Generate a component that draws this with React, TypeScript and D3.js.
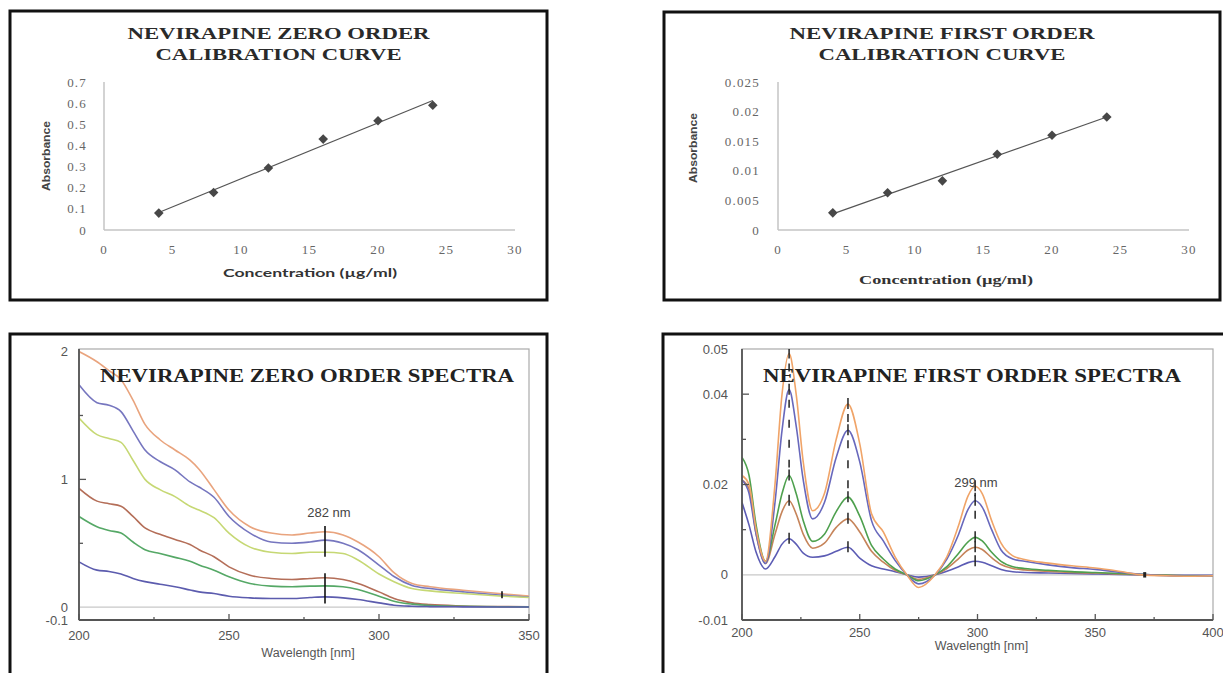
import React from "react";
import * as d3 from "d3";

// ---------- Calibration data ----------
const concentrations = [4, 8, 12, 16, 20, 24];
const zeroOrderAbs = [0.08, 0.177, 0.293, 0.43, 0.517, 0.59];
const firstOrderAbs = [0.0029, 0.0063, 0.0083, 0.0128, 0.016, 0.0191];
const concTicks = [0, 5, 10, 15, 20, 25, 30];
const zeroCalTicks = [0, 0.1, 0.2, 0.3, 0.4, 0.5, 0.6, 0.7];
const firstCalTicks = [0, 0.005, 0.01, 0.015, 0.02, 0.025];

// ---------- Zero order spectra ----------
const zeroWavelengths = [200, 206, 210, 214, 218, 222, 227, 232, 237, 240, 245, 250, 257, 264, 271, 277, 282, 288, 293, 300, 305, 311, 317, 328, 340, 350];
const zeroOrange = [2.0, 1.92, 1.85, 1.78, 1.62, 1.43, 1.31, 1.23, 1.15, 1.08, 0.92, 0.76, 0.63, 0.58, 0.565, 0.58, 0.59, 0.565, 0.51, 0.395, 0.27, 0.185, 0.16, 0.133, 0.107, 0.088];
const zeroBlue = [1.74, 1.6, 1.58, 1.53, 1.38, 1.23, 1.14, 1.075, 0.98, 0.94, 0.86, 0.71, 0.58, 0.51, 0.5, 0.51, 0.525, 0.5, 0.45, 0.33, 0.24, 0.17, 0.146, 0.12, 0.095, 0.08];
const zeroYellow = [1.48, 1.35, 1.32, 1.29, 1.15, 1.0, 0.92, 0.865, 0.79, 0.76, 0.7, 0.58, 0.47, 0.43, 0.42, 0.43, 0.43, 0.42, 0.37, 0.26, 0.2, 0.146, 0.128, 0.107, 0.088, 0.076];
const zeroBrown = [0.93, 0.83, 0.81, 0.79, 0.71, 0.62, 0.57, 0.53, 0.49, 0.45, 0.395, 0.316, 0.25, 0.225, 0.217, 0.225, 0.23, 0.217, 0.186, 0.12, 0.068, 0.034, 0.02, 0.01, 0.005, 0.003];
const zeroGreen = [0.71, 0.63, 0.6, 0.58, 0.51, 0.45, 0.42, 0.39, 0.36, 0.33, 0.29, 0.238, 0.186, 0.165, 0.16, 0.165, 0.167, 0.16, 0.139, 0.086, 0.047, 0.024, 0.013, 0.007, 0.004, 0.003];
const zeroNavy = [0.355, 0.29, 0.28, 0.26, 0.225, 0.2, 0.18, 0.16, 0.135, 0.12, 0.107, 0.086, 0.073, 0.068, 0.068, 0.076, 0.081, 0.073, 0.06, 0.034, 0.016, 0.008, 0.005, 0.003, 0.002, 0.002];
const zeroXTicks = [200, 250, 300, 350];
const zeroXMinor = [225, 275, 325];
const zeroYTicks = [0, 1, 2];
const zeroYMinor = [0.5, 1.5];

// ---------- First order spectra ----------
const firstWavelengths = [200, 203, 206, 210, 214, 217, 220, 223, 226, 230, 235, 240, 245, 250, 255, 260, 265, 270, 275, 282, 287, 292, 296, 299, 302, 306, 310, 315, 320, 330, 340, 350, 360, 370, 380, 390, 400];
const firstOrange = [0.022, 0.02, 0.01, 0.003, 0.02, 0.04, 0.049, 0.04, 0.025, 0.0142, 0.018, 0.03, 0.0378, 0.029, 0.0135, 0.0095, 0.004, 0.0, -0.0028, 0.0, 0.004, 0.011, 0.0175, 0.0196, 0.018, 0.012, 0.007, 0.0042, 0.0034, 0.0026, 0.002, 0.0015, 0.0008, 0.0, -0.0002, -0.0003, -0.0002];
const firstBlue = [0.021, 0.018, 0.009, 0.0025, 0.016, 0.032, 0.041, 0.033, 0.021, 0.0124, 0.016, 0.026, 0.032, 0.025, 0.012, 0.0075, 0.0032, 0.0, -0.002, 0.0, 0.0035, 0.009, 0.0145, 0.0164, 0.015, 0.01, 0.0055, 0.0035, 0.003, 0.0022, 0.0016, 0.0012, 0.0006, 0.0001, -0.0002, -0.0003, -0.0002];
const firstGreen = [0.026, 0.022, 0.011, 0.003, 0.011, 0.018, 0.022, 0.018, 0.012, 0.0074, 0.009, 0.014, 0.0172, 0.013, 0.0065, 0.0035, 0.0013, 0.0, -0.0013, 0.0, 0.0018, 0.0048, 0.0073, 0.0083, 0.0075, 0.005, 0.003, 0.0018, 0.0014, 0.001, 0.0007, 0.0005, 0.0003, 0.0001, -0.0001, -0.0002, -0.0002];
const firstBrown = [0.021, 0.019, 0.009, 0.0025, 0.009, 0.014, 0.0164, 0.0135, 0.009, 0.0059, 0.007, 0.0105, 0.0124, 0.0095, 0.0052, 0.0028, 0.001, 0.0, -0.001, 0.0, 0.0014, 0.0036, 0.0055, 0.0061, 0.0056, 0.0038, 0.0023, 0.0014, 0.0011, 0.0008, 0.0005, 0.0004, 0.0002, 0.0, -0.0001, -0.0002, -0.0002];
const firstNavy = [0.016, 0.011, 0.005, 0.0013, 0.004, 0.0068, 0.008, 0.0068, 0.0048, 0.0039, 0.0042, 0.0052, 0.0061, 0.0037, 0.002, 0.0013, 0.0007, 0.0, -0.0005, 0.0, 0.0008, 0.0018, 0.0027, 0.003, 0.0028, 0.002, 0.0012, 0.0007, 0.0005, 0.0004, 0.0003, 0.0002, 0.0001, 0.0, -0.0001, -0.0001, -0.0001];
const firstXTicks = [200, 250, 300, 350, 400];
const firstXMinor = [225, 275, 325, 375];
const firstYTicks = [-0.01, 0, 0.02, 0.04, 0.05];
const firstYMajor = [0.02, 0.04];
const firstYMinor = [0.01, 0.03];
const firstPeaks = [220, 245, 299];

const SERIF = "'Liberation Serif', 'Times New Roman', serif";
const SANS = "'Liberation Sans', Arial, sans-serif";

function regression(xs: number[], ys: number[]) {
  const mx = d3.mean(xs)!;
  const my = d3.mean(ys)!;
  const num = d3.sum(xs.map((x, i) => (x - mx) * (ys[i] - my)));
  const den = d3.sum(xs.map((x) => (x - mx) ** 2));
  const b = num / den;
  return { a: my - b * mx, b };
}

function CalPanel(props: {
  box: [number, number, number, number];
  xr: [number, number];
  yr: [number, number];
  yMax: number;
  yTicks: number[];
  ys: number[];
  title: [string, string];
  titleY: [number, number];
  titleLen: [number, number];
  yLabelX: number;
  absX: number;
  absY: number;
  xLabelX: number;
  xLabelY: number;
  xLabelFont: string;
  xLabelSize: number;
  fmt: (v: number) => string;
}) {
  const { box, xr, yr, yMax, yTicks, ys } = props;
  const x = d3.scaleLinear().domain([0, 30]).range(xr);
  const y = d3.scaleLinear().domain([0, yMax]).range(yr);
  const { a, b } = regression(concentrations, ys);
  const lineGen = d3.line<number>().x((c) => x(c)).y((c) => y(a + b * c));
  const cx = (box[0] + box[2]) / 2;
  const diamond = d3.symbol(d3.symbolSquare, 46)() || "";
  return (
    <g>
      <rect x={box[0]} y={box[1]} width={box[2] - box[0]} height={box[3] - box[1]} fill="#fff" stroke="#111" strokeWidth={3} />
      <text x={cx} y={props.titleY[0]} textAnchor="middle" fontFamily={SERIF} fontWeight="bold" fontSize={17.5} fill="#2a2a2a" textLength={props.titleLen[0]} lengthAdjust="spacingAndGlyphs">{props.title[0]}</text>
      <text x={cx} y={props.titleY[1]} textAnchor="middle" fontFamily={SERIF} fontWeight="bold" fontSize={17.5} fill="#2a2a2a" textLength={props.titleLen[1]} lengthAdjust="spacingAndGlyphs">{props.title[1]}</text>
      <line x1={xr[0]} x2={xr[0]} y1={yr[0]} y2={yr[1]} stroke="#c4c4c4" strokeWidth={1.5} />
      <line x1={xr[0]} x2={xr[1]} y1={yr[0]} y2={yr[0]} stroke="#c4c4c4" strokeWidth={1.5} />
      {yTicks.map((t) => (
        <text key={t} x={props.yLabelX} y={y(t) + 4.5} textAnchor="end" fontFamily={SERIF} fontSize={13} letterSpacing={1.2} fill="#666">{props.fmt(t)}</text>
      ))}
      {concTicks.map((t) => (
        <text key={t} x={x(t)} y={yr[0] + 24} textAnchor="middle" fontFamily={SERIF} fontSize={13} letterSpacing={1.2} fill="#666">{t}</text>
      ))}
      <text transform={`translate(${props.absX},${props.absY}) rotate(-90)`} textAnchor="middle" fontFamily={SANS} fontWeight="bold" fontSize={11} fill="#444" textLength={70} lengthAdjust="spacingAndGlyphs">Absorbance</text>
      <text x={props.xLabelX} y={props.xLabelY} textAnchor="middle" fontFamily={props.xLabelFont} fontWeight="bold" fontSize={props.xLabelSize} fill="#333" textLength={174} lengthAdjust="spacingAndGlyphs">Concentration (µg/ml)</text>
      <path d={lineGen([concentrations[0], concentrations[concentrations.length - 1]]) || ""} stroke="#555" strokeWidth={1.2} fill="none" />
      {concentrations.map((c, i) => (
        <path key={c} d={diamond} transform={`translate(${x(c)},${y(ys[i])}) rotate(45)`} fill="#474747" />
      ))}
    </g>
  );
}

function SpecPanel(props: {
  box: [number, number, number, number];
  xr: [number, number];
  yr: [number, number];
  xDom: [number, number];
  yDom: [number, number];
  wl: number[];
  series: { v: number[]; c: string }[];
  xTicks: number[];
  xMinor: number[];
  yTicks: number[];
  yMajor: number[];
  yMinor: number[];
  title: string;
  titleX: number;
  titleLen: number;
  xLabelY: number;
  xTickY: number;
  yLabelX: number;
  children?: (x: d3.ScaleLinear<number, number>, y: d3.ScaleLinear<number, number>) => React.ReactNode;
  fmtY: (v: number) => string;
}) {
  const { box, xr, yr } = props;
  const x = d3.scaleLinear().domain(props.xDom).range(xr);
  const y = d3.scaleLinear().domain(props.yDom).range(yr);
  const line = d3.line<number>().x((_, i) => x(props.wl[i])).y((v) => y(v)).curve(d3.curveMonotoneX);
  const clipId = "clip" + box[0];
  return (
    <g>
      <rect x={box[0]} y={box[1]} width={box[2] - box[0]} height={box[3] - box[1]} fill="#fff" stroke="#111" strokeWidth={3} />
      <defs>
        <clipPath id={clipId}>
          <rect x={xr[0]} y={yr[1]} width={xr[1] - xr[0]} height={yr[0] - yr[1]} />
        </clipPath>
      </defs>
      <rect x={xr[0]} y={yr[1]} width={xr[1] - xr[0]} height={yr[0] - yr[1]} fill="none" stroke="#aaa" strokeWidth={1.2} />
      <line x1={xr[0]} x2={xr[1]} y1={y(0)} y2={y(0)} stroke="#c8c8c8" strokeWidth={1.2} />
      <g clipPath={`url(#${clipId})`}>
        {props.series.map((s, i) => (
          <path key={i} d={line(s.v) || ""} fill="none" stroke={s.c} strokeWidth={1.6} />
        ))}
        {props.children && props.children(x, y)}
      </g>
      <line x1={xr[0]} x2={xr[0]} y1={yr[0]} y2={yr[1]} stroke="#555" strokeWidth={1.8} />
      <line x1={xr[0]} x2={xr[1]} y1={yr[0]} y2={yr[0]} stroke="#555" strokeWidth={1.8} />
      {props.xTicks.map((t) => (
        <g key={t}>
          <line x1={x(t)} x2={x(t)} y1={yr[0]} y2={yr[0] - 6} stroke="#555" strokeWidth={1.3} />
          <text x={x(t)} y={props.xTickY} textAnchor="middle" fontFamily={SANS} fontSize={13} fill="#555">{t}</text>
        </g>
      ))}
      {props.xMinor.map((t) => (
        <line key={t} x1={x(t)} x2={x(t)} y1={yr[0]} y2={yr[0] - 3} stroke="#555" strokeWidth={1.3} />
      ))}
      {props.yMajor.map((t) => (
        <line key={t} x1={xr[0]} x2={xr[0] + 7} y1={y(t)} y2={y(t)} stroke="#555" strokeWidth={1.3} />
      ))}
      {props.yMinor.map((t) => (
        <line key={t} x1={xr[0]} x2={xr[0] + 4} y1={y(t)} y2={y(t)} stroke="#555" strokeWidth={1.3} />
      ))}
      {props.yTicks.map((t) => (
        <text key={t} x={props.yLabelX} y={y(t) + 4.5} textAnchor="end" fontFamily={SANS} fontSize={13} fill="#555">{props.fmtY(t)}</text>
      ))}
      <text x={props.titleX} y={yr[1] + 33} textAnchor="middle" fontFamily={SERIF} fontWeight="bold" fontSize={18} fill="#222" textLength={props.titleLen} lengthAdjust="spacingAndGlyphs">{props.title}</text>
      <text x={(xr[0] + xr[1]) / 2 + 4} y={props.xLabelY} textAnchor="middle" fontFamily={SANS} fontSize={12.5} fill="#555">Wavelength [nm]</text>
    </g>
  );
}

export default function App() {
  const zeroSeries = [
    { v: zeroOrange, c: "#e9a47e" },
    { v: zeroBlue, c: "#7676bf" },
    { v: zeroYellow, c: "#c6d874" },
    { v: zeroBrown, c: "#b46e58" },
    { v: zeroGreen, c: "#55a866" },
    { v: zeroNavy, c: "#5c5cae" },
  ];
  const firstSeries = [
    { v: firstNavy, c: "#5c5cb4" },
    { v: firstBrown, c: "#c6845a" },
    { v: firstGreen, c: "#4ea04e" },
    { v: firstBlue, c: "#6868bc" },
    { v: firstOrange, c: "#f0a468" },
  ];
  return (
    <svg width={1223} height={673} style={{ position: "absolute", left: 0, top: 0, background: "#fff" }}>
      <rect x={0} y={0} width={1223} height={673} fill="#fff" />
      <CalPanel
        box={[10, 11, 547, 300]}
        xr={[104, 515]}
        yr={[230, 82]}
        yMax={0.7}
        yTicks={zeroCalTicks}
        ys={zeroOrderAbs}
        title={["NEVIRAPINE ZERO ORDER", "CALIBRATION CURVE"]}
        titleY={[39, 60]}
        titleLen={[302, 246]}
        yLabelX={87}
        absX={50}
        absY={156}
        xLabelX={310}
        xLabelY={277}
        xLabelFont="Lato, 'Open Sans', sans-serif"
        xLabelSize={12}
        fmt={(v) => d3.format(".1~f")(v)}
      />
      <CalPanel
        box={[664, 12, 1220, 300]}
        xr={[778, 1189]}
        yr={[230, 82]}
        yMax={0.025}
        yTicks={firstCalTicks}
        ys={firstOrderAbs}
        title={["NEVIRAPINE FIRST ORDER", "CALIBRATION CURVE"]}
        titleY={[39, 60]}
        titleLen={[305, 247]}
        yLabelX={760}
        absX={697}
        absY={148}
        xLabelX={946}
        xLabelY={284}
        xLabelFont={SERIF}
        xLabelSize={12.5}
        fmt={(v) => (v === 0 ? "0" : d3.format(".3~f")(v))}
      />
      <SpecPanel
        box={[10, 334, 547, 685]}
        xr={[79, 529]}
        yr={[620, 349]}
        xDom={[200, 350]}
        yDom={[-0.1, 2.02]}
        wl={zeroWavelengths}
        series={zeroSeries}
        xTicks={zeroXTicks}
        xMinor={zeroXMinor}
        yTicks={[-0.1, ...zeroYTicks]}
        yMajor={[1]}
        yMinor={zeroYMinor}
        title="NEVIRAPINE ZERO ORDER SPECTRA"
        titleX={307}
        titleLen={414}
        xLabelY={657}
        xTickY={640}
        yLabelX={68}
        fmtY={(v) => String(v)}
      >
        {(x, y) => (
          <g stroke="#111" strokeWidth={1.6}>
            <line x1={x(282)} x2={x(282)} y1={y(0.635)} y2={y(0.395)} />
            <line x1={x(282)} x2={x(282)} y1={y(0.265)} y2={y(0.03)} />
            <line x1={x(341)} x2={x(341)} y1={y(0.125)} y2={y(0.07)} />
          </g>
        )}
      </SpecPanel>
      <text x={329} y={517} textAnchor="middle" fontFamily={SANS} fontSize={13} fill="#444">282 nm</text>
      <SpecPanel
        box={[663, 334, 1232, 685]}
        xr={[742, 1213]}
        yr={[620, 349]}
        xDom={[200, 400]}
        yDom={[-0.01, 0.05]}
        wl={firstWavelengths}
        series={firstSeries}
        xTicks={firstXTicks}
        xMinor={firstXMinor}
        yTicks={firstYTicks}
        yMajor={firstYMajor}
        yMinor={firstYMinor}
        title="NEVIRAPINE FIRST ORDER SPECTRA"
        titleX={972}
        titleLen={418}
        xLabelY={650}
        xTickY={637}
        yLabelX={728}
        fmtY={(v) => String(v)}
      >
        {(x, y) => (
          <g stroke="#222" strokeWidth={1.5}>
            {firstPeaks.map((p) => {
              const idx = firstWavelengths.indexOf(p);
              return (
                <g key={p}>
                  {firstSeries.map((s, i) => (
                    <line key={i} x1={x(p)} x2={x(p)} y1={y(s.v[idx]) - 6} y2={y(s.v[idx]) + 5} />
                  ))}
                  <line x1={x(p)} x2={x(p)} y1={y(firstOrange[idx]) + 10} y2={y(firstBlue[idx]) - 8} strokeDasharray="8 9" />
                  <line x1={x(p)} x2={x(p)} y1={y(firstBlue[idx]) + 10} y2={y(firstGreen[idx]) - 8} strokeDasharray="8 12" />
                </g>
              );
            })}
            <line x1={x(371)} x2={x(371)} y1={y(0.0006)} y2={y(-0.0006)} strokeWidth={3} />
          </g>
        )}
      </SpecPanel>
      <text x={976} y={487} textAnchor="middle" fontFamily={SANS} fontSize={13} fill="#444">299 nm</text>
    </svg>
  );
}
